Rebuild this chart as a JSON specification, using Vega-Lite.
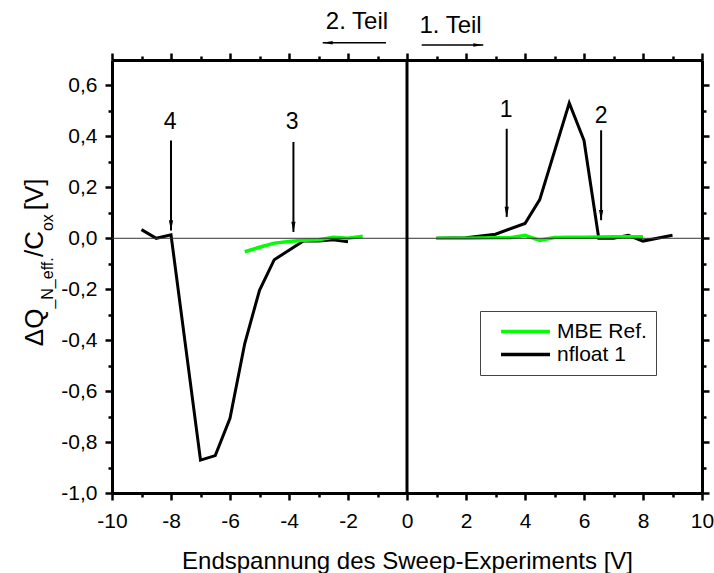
{
  "$schema": "https://vega.github.io/schema/vega-lite/v6.json",
  "width": 590,
  "height": 433,
  "autosize": {"type": "none"},
  "padding": {"left": 112, "top": 60, "right": 12, "bottom": 80},
  "background": "white",
  "config": {
    "view": {"stroke": null},
    "font": "Liberation Sans",
    "axis": {"grid": false, "domainColor": "black", "tickColor": "black", "labelColor": "black", "titleColor": "black", "labelFont": "Liberation Sans", "titleFont": "Liberation Sans", "titleFontWeight": "normal", "labelFlush": false, "labelOverlap": false}
  },
  "datasets": {
    "curves": [
      {"s": "nfloat 1", "part": "L", "x": -9, "y": 0.034},
      {"s": "nfloat 1", "part": "L", "x": -8.5, "y": 0.0},
      {"s": "nfloat 1", "part": "L", "x": -8, "y": 0.014},
      {"s": "nfloat 1", "part": "L", "x": -7, "y": -0.871},
      {"s": "nfloat 1", "part": "L", "x": -6.5, "y": -0.853},
      {"s": "nfloat 1", "part": "L", "x": -6, "y": -0.707},
      {"s": "nfloat 1", "part": "L", "x": -5.5, "y": -0.413},
      {"s": "nfloat 1", "part": "L", "x": -5, "y": -0.204},
      {"s": "nfloat 1", "part": "L", "x": -4.5, "y": -0.084},
      {"s": "nfloat 1", "part": "L", "x": -4, "y": -0.047},
      {"s": "nfloat 1", "part": "L", "x": -3.5, "y": -0.01},
      {"s": "nfloat 1", "part": "L", "x": -3, "y": -0.011},
      {"s": "nfloat 1", "part": "L", "x": -2.5, "y": -0.006},
      {"s": "nfloat 1", "part": "L", "x": -2, "y": -0.014},
      {"s": "nfloat 1", "part": "R", "x": 1, "y": 0.0},
      {"s": "nfloat 1", "part": "R", "x": 2, "y": 0.002},
      {"s": "nfloat 1", "part": "R", "x": 3, "y": 0.016},
      {"s": "nfloat 1", "part": "R", "x": 4, "y": 0.058},
      {"s": "nfloat 1", "part": "R", "x": 4.5, "y": 0.152},
      {"s": "nfloat 1", "part": "R", "x": 5.5, "y": 0.531},
      {"s": "nfloat 1", "part": "R", "x": 6, "y": 0.384},
      {"s": "nfloat 1", "part": "R", "x": 6.5, "y": 0.0},
      {"s": "nfloat 1", "part": "R", "x": 7, "y": 0.0},
      {"s": "nfloat 1", "part": "R", "x": 7.5, "y": 0.012},
      {"s": "nfloat 1", "part": "R", "x": 8, "y": -0.011},
      {"s": "nfloat 1", "part": "R", "x": 9, "y": 0.012},
      {"s": "MBE Ref.", "part": "L", "x": -5.5, "y": -0.053},
      {"s": "MBE Ref.", "part": "L", "x": -5, "y": -0.035},
      {"s": "MBE Ref.", "part": "L", "x": -4.5, "y": -0.019},
      {"s": "MBE Ref.", "part": "L", "x": -4, "y": -0.013},
      {"s": "MBE Ref.", "part": "L", "x": -3.5, "y": -0.008},
      {"s": "MBE Ref.", "part": "L", "x": -3, "y": -0.006},
      {"s": "MBE Ref.", "part": "L", "x": -2.5, "y": 0.004},
      {"s": "MBE Ref.", "part": "L", "x": -2, "y": 0.0},
      {"s": "MBE Ref.", "part": "L", "x": -1.5, "y": 0.008},
      {"s": "MBE Ref.", "part": "R", "x": 1, "y": 0.0},
      {"s": "MBE Ref.", "part": "R", "x": 2, "y": 0.0},
      {"s": "MBE Ref.", "part": "R", "x": 3, "y": 0.002},
      {"s": "MBE Ref.", "part": "R", "x": 3.5, "y": 0.002},
      {"s": "MBE Ref.", "part": "R", "x": 4, "y": 0.012},
      {"s": "MBE Ref.", "part": "R", "x": 4.5, "y": -0.008},
      {"s": "MBE Ref.", "part": "R", "x": 5, "y": 0.003},
      {"s": "MBE Ref.", "part": "R", "x": 5.5, "y": 0.004},
      {"s": "MBE Ref.", "part": "R", "x": 6, "y": 0.004},
      {"s": "MBE Ref.", "part": "R", "x": 6.5, "y": 0.005},
      {"s": "MBE Ref.", "part": "R", "x": 7, "y": 0.006},
      {"s": "MBE Ref.", "part": "R", "x": 7.5, "y": 0.006},
      {"s": "MBE Ref.", "part": "R", "x": 8, "y": 0.006}
    ],
    "arrows": [
      {"label": "4", "x": -8.0, "top": 0.384, "tip": 0.031, "lx": -8.03, "ly": 0.456},
      {"label": "3", "x": -3.85, "top": 0.378, "tip": 0.025, "lx": -3.89, "ly": 0.456},
      {"label": "1", "x": 3.38, "top": 0.43, "tip": 0.084, "lx": 3.36, "ly": 0.502},
      {"label": "2", "x": 6.58, "top": 0.424, "tip": 0.071, "lx": 6.58, "ly": 0.482}
    ],
    "frame": [{"x1": -10, "x2": 10, "y": 0, "xv": 0, "y1": -1, "y2": 0.7}],
    "teil": [
      {"text": "2. Teil", "tx": -1.695, "ty": 0.822, "from": -0.712, "to": -2.858, "ay": 0.768, "dir": "left"},
      {"text": "1. Teil", "tx": 1.475, "ty": 0.806, "from": 0.498, "to": 2.586, "ay": 0.759, "dir": "right"}
    ],
    "ytitleMain": [
      {"t": "ΔQ", "x": -12.34, "y": -0.4235},
      {"t": "/C", "x": -12.34, "y": -0.0737},
      {"t": "[V]", "x": -12.34, "y": 0.1098}
    ],
    "ytitleSub": [
      {"t": "_N_eff.", "x": -12.0, "y": -0.276},
      {"t": "ox", "x": -12.0, "y": 0.0282}
    ]
  },
  "resolve": {"axis": {"x": "independent", "y": "independent"}},
  "layer": [
    {
      "data": {"name": "curves"},
      "transform": [{"filter": "datum.s == 'nfloat 1'"}],
      "mark": {"type": "line", "strokeWidth": 3, "strokeJoin": "miter"},
      "encoding": {
        "x": {"field": "x", "type": "quantitative", "scale": {"domain": [-10, 10], "nice": false, "zero": false},
          "axis": {"orient": "bottom", "values": [-10, -8, -6, -4, -2, 0, 2, 4, 6, 8, 10], "labelExpr": "replace(format(datum.value, 'd'), '\u2212', '-')", "labelFontSize": 21, "labelPadding": 10, "tickSize": 7, "tickWidth": 2.5, "domainWidth": 3, "title": "Endspannung des Sweep-Experiments [V]", "titleFontSize": 24, "titlePadding": 18}},
        "y": {"field": "y", "type": "quantitative", "scale": {"domain": [-1, 0.7], "nice": false, "zero": false},
          "axis": {"orient": "left", "values": [-1, -0.8, -0.6, -0.4, -0.2, 0, 0.2, 0.4, 0.6], "labelExpr": "replace(replace(format(datum.value, '.1f'), '\u2212', '-'), '.', ',')", "labelFontSize": 21, "labelPadding": 8, "tickSize": 7, "tickWidth": 2.5, "domainWidth": 3, "title": null}},
        "color": {"field": "s", "type": "nominal", "scale": {"domain": ["MBE Ref.", "nfloat 1"], "range": ["#00ff00", "#000000"]},
          "legend": {"orient": "none", "legendX": 368, "legendY": 251, "title": null, "symbolType": "stroke", "symbolSize": 2400, "symbolStrokeWidth": 3.5, "labelFontSize": 21, "labelFont": "Liberation Sans", "labelColor": "black", "strokeColor": "#444", "padding": 9, "symbolOffset": 10, "labelOffset": 5, "rowPadding": 0, "clipHeight": 23}},
        "detail": {"field": "part", "type": "nominal"}
      }
    },
    {
      "data": {"name": "curves"},
      "transform": [{"filter": "datum.s == 'MBE Ref.'"}],
      "mark": {"type": "line", "strokeWidth": 3.5},
      "encoding": {
        "x": {"field": "x", "type": "quantitative", "axis": null},
        "y": {"field": "y", "type": "quantitative", "axis": null},
        "color": {"field": "s", "type": "nominal"},
        "detail": {"field": "part", "type": "nominal"}
      }
    },
    {
      "data": {"name": "frame"},
      "mark": {"type": "rule", "color": "#333333", "strokeWidth": 1},
      "encoding": {
        "x": {"field": "x1", "type": "quantitative", "axis": {"orient": "bottom", "values": [-9, -7, -5, -3, -1, 1, 3, 5, 7, 9], "labels": false, "domain": false, "tickSize": 4, "tickWidth": 2.5, "title": null}},
        "x2": {"field": "x2"},
        "y": {"field": "y", "type": "quantitative", "axis": {"orient": "left", "values": [-0.9, -0.7, -0.5, -0.3, -0.1, 0.1, 0.3, 0.5], "labels": false, "domain": false, "tickSize": 4, "tickWidth": 2.5, "title": null}}
      }
    },
    {
      "data": {"name": "frame"},
      "mark": {"type": "rule", "color": "black", "strokeWidth": 3},
      "encoding": {
        "x": {"field": "xv", "type": "quantitative", "axis": {"orient": "top", "values": [-10, -8, -6, -4, -2, 0, 2, 4, 6, 8, 10], "labels": false, "tickSize": 7, "tickWidth": 2.5, "domainWidth": 3, "title": null}},
        "y": {"field": "y1", "type": "quantitative", "axis": {"orient": "right", "values": [-1, -0.8, -0.6, -0.4, -0.2, 0, 0.2, 0.4, 0.6], "labels": false, "tickSize": 7, "tickWidth": 2.5, "domainWidth": 3, "title": null}},
        "y2": {"field": "y2"}
      }
    },
    {
      "data": {"name": "arrows"},
      "mark": {"type": "rule", "color": "black", "strokeWidth": 2},
      "encoding": {
        "x": {"field": "x", "type": "quantitative", "axis": {"orient": "top", "values": [-9, -7, -5, -3, -1, 1, 3, 5, 7, 9], "labels": false, "domain": false, "tickSize": 4, "tickWidth": 2.5, "title": null}},
        "y": {"field": "top", "type": "quantitative", "axis": {"orient": "right", "values": [-0.9, -0.7, -0.5, -0.3, -0.1, 0.1, 0.3, 0.5], "labels": false, "domain": false, "tickSize": 4, "tickWidth": 2.5, "title": null}},
        "y2": {"field": "tip"}
      }
    },
    {
      "data": {"name": "arrows"},
      "mark": {"type": "point", "shape": "M-0.4,-1L0.4,-1L0,1Z", "size": 110, "filled": true, "color": "black", "opacity": 1, "yOffset": -5},
      "encoding": {
        "x": {"field": "x", "type": "quantitative", "axis": null},
        "y": {"field": "tip", "type": "quantitative", "axis": null}
      }
    },
    {
      "data": {"name": "arrows"},
      "mark": {"type": "text", "fontSize": 23, "font": "Liberation Sans", "color": "black", "baseline": "middle", "align": "center"},
      "encoding": {
        "x": {"field": "lx", "type": "quantitative", "axis": null},
        "y": {"field": "ly", "type": "quantitative", "axis": null},
        "text": {"field": "label"}
      }
    },
    {
      "data": {"name": "teil"},
      "mark": {"type": "text", "fontSize": 24, "font": "Liberation Sans", "color": "black", "baseline": "alphabetic", "align": "center"},
      "encoding": {
        "x": {"field": "tx", "type": "quantitative", "axis": null},
        "y": {"field": "ty", "type": "quantitative", "axis": null},
        "text": {"field": "text"}
      }
    },
    {
      "data": {"name": "teil"},
      "mark": {"type": "rule", "color": "black", "strokeWidth": 1.5},
      "encoding": {
        "x": {"field": "from", "type": "quantitative", "axis": null},
        "x2": {"field": "to"},
        "y": {"field": "ay", "type": "quantitative", "axis": null}
      }
    },
    {
      "data": {"name": "teil"},
      "transform": [{"filter": "datum.dir == 'left'"}],
      "mark": {"type": "point", "shape": "M1,-0.35L1,0.35L-1,0Z", "size": 100, "filled": true, "color": "black", "opacity": 1, "xOffset": 5},
      "encoding": {
        "x": {"field": "to", "type": "quantitative", "axis": null},
        "y": {"field": "ay", "type": "quantitative", "axis": null}
      }
    },
    {
      "data": {"name": "teil"},
      "transform": [{"filter": "datum.dir == 'right'"}],
      "mark": {"type": "point", "shape": "M-1,-0.35L-1,0.35L1,0Z", "size": 100, "filled": true, "color": "black", "opacity": 1, "xOffset": -5},
      "encoding": {
        "x": {"field": "to", "type": "quantitative", "axis": null},
        "y": {"field": "ay", "type": "quantitative", "axis": null}
      }
    },
    {
      "data": {"name": "ytitleMain"},
      "mark": {"type": "text", "fontSize": 26, "font": "Liberation Sans", "color": "black", "angle": 270, "align": "left", "baseline": "alphabetic"},
      "encoding": {
        "x": {"field": "x", "type": "quantitative", "axis": null},
        "y": {"field": "y", "type": "quantitative", "axis": null},
        "text": {"field": "t"}
      }
    },
    {
      "data": {"name": "ytitleSub"},
      "mark": {"type": "text", "fontSize": 16, "font": "Liberation Sans", "color": "black", "angle": 270, "align": "left", "baseline": "alphabetic"},
      "encoding": {
        "x": {"field": "x", "type": "quantitative", "axis": null},
        "y": {"field": "y", "type": "quantitative", "axis": null},
        "text": {"field": "t"}
      }
    }
  ]
}
